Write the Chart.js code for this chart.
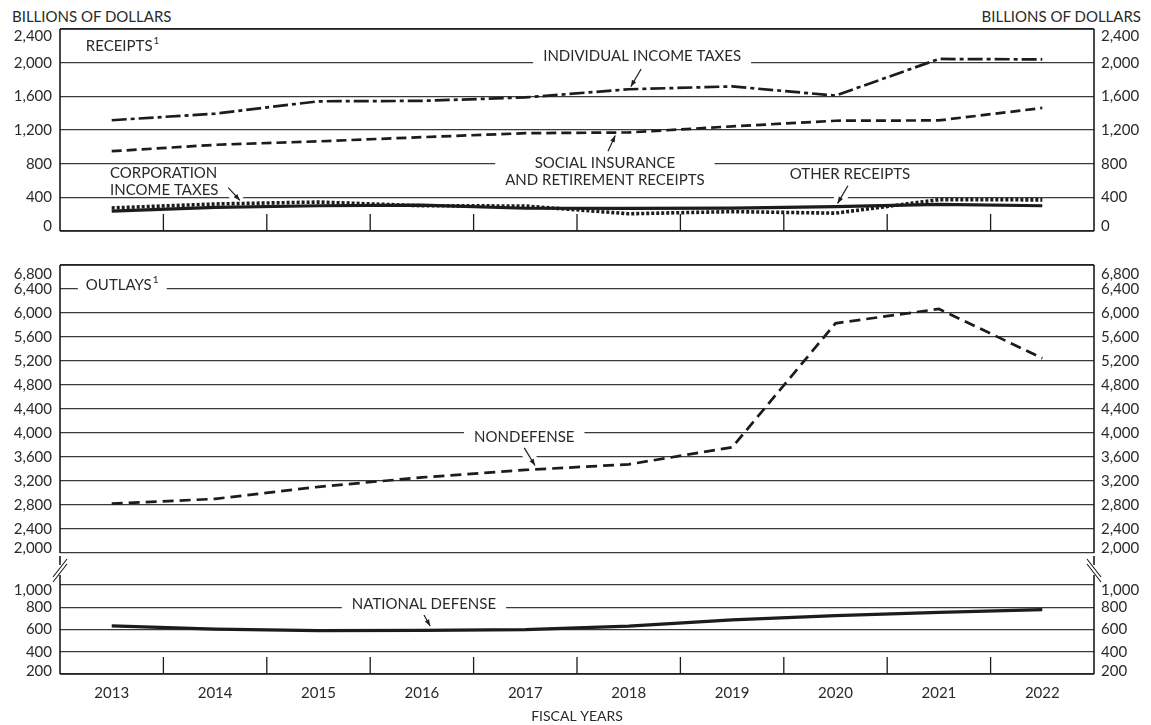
<!DOCTYPE html>
<html>
<head>
<meta charset="utf-8">
<script src="https://cdn.jsdelivr.net/npm/chart.js@4.4.1/dist/chart.umd.min.js"></script>
<style>
  body { margin: 0; background: #fff; }
  #wrap { position: relative; width: 1151px; height: 725px; font-family: Lato, sans-serif; color: #2a2a2a; }
  #wrap canvas { position: absolute; left: 0; }
  .cap { position: absolute; top: 7px; font-size: 15px; white-space: nowrap; }
</style>
</head>
<body>
<div id="wrap">
  <div class="cap" style="left:12px">BILLIONS OF DOLLARS</div>
  <div class="cap" style="right:10px">BILLIONS OF DOLLARS</div>
  <canvas id="receipts" width="1151" height="248" style="top:0"></canvas>
  <canvas id="outlaysHigh" width="1151" height="322" style="top:248px"></canvas>
  <canvas id="outlaysLow" width="1151" height="175" style="top:550px"></canvas>
</div>
<script>
// fiscal years
const years = ['2013', '2014', '2015', '2016', '2017', '2018', '2019', '2020', '2021', '2022'];

// receipts, billions of dollars
const individualIncomeTaxes = [1316, 1395, 1541, 1546, 1587, 1684, 1718, 1609, 2044, 2039];
const socialInsurance = [948, 1024, 1065, 1115, 1162, 1171, 1243, 1310, 1314, 1462];
const corporationIncomeTaxes = [274, 321, 344, 300, 297, 205, 230, 212, 372, 370];
const otherReceipts = [237, 281, 300, 307, 270, 269, 272, 289, 317, 300];

// outlays, billions of dollars
const nondefense = [2822, 2902, 3103, 3260, 3384, 3478, 3761, 5828, 6068, 5247];
const nationalDefense = [633, 604, 589, 593, 598, 631, 686, 724, 754, 778];

// tick labels
const receiptTicks = [0, 400, 800, 1200, 1600, 2000, 2400];
const outlayHighTicks = [2000, 2400, 2800, 3200, 3600, 4000, 4400, 4800, 5200, 5600, 6000, 6400, 6800];
const outlayLowTicks = [200, 400, 600, 800, 1000];

const FONT = 'Lato, sans-serif';
const INK = '#1c1c1c';
const GRID = '#3a3a3a';

Chart.defaults.font.family = FONT;
Chart.defaults.font.size = 15;
Chart.defaults.color = '#2a2a2a';
Chart.defaults.animation = false;

function fmt(v) { return Number(v).toLocaleString('en-US'); }

// y axis pair (left + right) with fixed widths so the plot area is 60..1094
// nudge = [shift of lowest label, shift of highest label] to keep them inside the panel
function yAxes(min, max, list, nudge) {
  const common = {
    type: 'linear', min: min, max: max,
    afterBuildTicks: s => { s.ticks = list.map(v => ({ value: v })); },
    border: { display: false },
    nudge: nudge
  };
  return {
    y: Object.assign({}, common, {
      position: 'left',
      grid: { color: GRID, lineWidth: 1.3, drawTicks: false },
      ticks: { padding: 8, callback: v => fmt(v), autoSkip: false },
      afterFit: s => { s.width = 60; }
    }),
    y2: Object.assign({}, common, {
      position: 'right',
      grid: { display: false, drawTicks: false },
      ticks: { padding: 7, callback: v => fmt(v), autoSkip: false },
      afterFit: s => { s.width = 57; }
    })
  };
}

function line(label, data, dash, width) {
  return {
    label: label, data: data, borderColor: INK, borderWidth: width || 2.7,
    borderDash: dash || [], pointRadius: 0, tension: 0, fill: false,
    borderCapStyle: 'butt'
  };
}

// labels with white knock-outs over the grid, plus little arrows
const notesPlugin = {
  id: 'notes',
  beforeDraw(chart) {
    // move the end labels of each value axis inwards, as in the printed chart
    ['y', 'y2'].forEach(id => {
      const s = chart.scales[id];
      const nudge = s.options.nudge;
      if (!nudge) return;
      const items = s.getLabelItems();
      if (!items.length || items._nudged) return;
      items[0].options.translation[1] += nudge[0];
      items[items.length - 1].options.translation[1] += nudge[1];
      items._nudged = true;
    });
  },
  beforeDatasetsDraw(chart, args, opts) {
    const ctx = chart.ctx, xs = chart.scales.x, ys = chart.scales.y;
    ctx.save();
    (opts.arrows || []).forEach(a => {
      const x0 = xs.getPixelForValue(a.from[0]), y0 = ys.getPixelForValue(a.from[1]);
      const x1 = xs.getPixelForValue(a.to[0]), y1 = ys.getPixelForValue(a.to[1]);
      ctx.strokeStyle = '#fff'; ctx.lineWidth = 12;
      ctx.beginPath(); ctx.moveTo(x0, y0); ctx.lineTo(x1, y1); ctx.stroke();
    });
    ctx.font = '15px ' + FONT;
    ctx.textBaseline = 'middle';
    (opts.items || []).forEach(n => {
      const px = xs.getPixelForValue(n.at[0]);
      const py = ys.getPixelForValue(n.at[1]);
      const lh = 17;
      const widths = n.lines.map(t => ctx.measureText(t).width);
      let w = Math.max.apply(null, widths);
      if (n.sup) w += 7;
      const left = n.align === 'left' ? px : px - w / 2;
      const pad = n.pad == null ? 10 : n.pad;
      const vpad = n.vpad == null ? 8 : n.vpad;
      ctx.fillStyle = '#fff';
      ctx.fillRect(left - pad, py - vpad, w + pad * 2, lh * (n.lines.length - 1) + vpad * 2);
      ctx.fillStyle = '#2a2a2a';
      n.lines.forEach((t, i) => {
        const tx = n.align === 'left' ? px : px - widths[i] / 2;
        ctx.textAlign = 'left';
        ctx.fillText(t, tx, py + i * lh);
        if (n.sup && i === 0) {
          ctx.font = '10px ' + FONT;
          ctx.fillText(n.sup, tx + widths[i] + 1, py - 5);
          ctx.font = '15px ' + FONT;
        }
      });
    });
    (opts.arrows || []).forEach(a => {
      const x0 = xs.getPixelForValue(a.from[0]), y0 = ys.getPixelForValue(a.from[1]);
      const x1 = xs.getPixelForValue(a.to[0]), y1 = ys.getPixelForValue(a.to[1]);
      const ang = Math.atan2(y1 - y0, x1 - x0);
      ctx.strokeStyle = INK; ctx.fillStyle = INK; ctx.lineWidth = 1.2;
      ctx.beginPath(); ctx.moveTo(x0, y0); ctx.lineTo(x1, y1); ctx.stroke();
      ctx.beginPath();
      ctx.moveTo(x1, y1);
      ctx.lineTo(x1 - 7 * Math.cos(ang - 0.35), y1 - 7 * Math.sin(ang - 0.35));
      ctx.lineTo(x1 - 7 * Math.cos(ang + 0.35), y1 - 7 * Math.sin(ang + 0.35));
      ctx.closePath(); ctx.fill();
    });
    ctx.restore();
  },
  afterDraw(chart, args, opts) {
    const ctx = chart.ctx, a = chart.chartArea, xs = chart.scales.x;
    ctx.save();
    ctx.strokeStyle = INK; ctx.lineWidth = 1.6;
    const sides = opts.frame || [];
    ctx.beginPath();
    if (sides.includes('top')) { ctx.moveTo(a.left, a.top); ctx.lineTo(a.right, a.top); }
    if (sides.includes('bottom')) { ctx.moveTo(a.left, a.bottom); ctx.lineTo(a.right, a.bottom); }
    if (sides.includes('left')) { ctx.moveTo(a.left, a.top); ctx.lineTo(a.left, a.bottom); }
    if (sides.includes('right')) { ctx.moveTo(a.right, a.top); ctx.lineTo(a.right, a.bottom); }
    ctx.stroke();
    // short tick marks between fiscal years
    if (opts.yearTicks) {
      ctx.lineWidth = 1.3;
      ctx.beginPath();
      for (let i = 0; i < years.length - 1; i++) {
        const x = (xs.getPixelForValue(i) + xs.getPixelForValue(i + 1)) / 2;
        ctx.moveTo(x, a.bottom); ctx.lineTo(x, a.bottom - 17);
      }
      ctx.stroke();
    }
    // axis break between the two outlay panels
    if (opts.axisBreak) {
      const top = a.top - 29;
      [a.left, a.right].forEach((x, k) => {
        ctx.lineWidth = 1.6;
        ctx.beginPath();
        ctx.moveTo(x, top); ctx.lineTo(x, top + 9);
        ctx.moveTo(x, top + 19); ctx.lineTo(x, a.top);
        ctx.stroke();
        ctx.lineWidth = 1.1;
        const d = k === 0 ? -1 : 1;
        ctx.beginPath();
        ctx.moveTo(x - 7, top + 14 - 9 * d - 2); ctx.lineTo(x + 7, top + 14 + 9 * d - 2);
        ctx.moveTo(x - 7, top + 14 - 9 * d + 3); ctx.lineTo(x + 7, top + 14 + 9 * d + 3);
        ctx.stroke();
      });
    }
    ctx.restore();
  }
};

const hiddenX = { type: 'category', display: false, offset: true };

// receipts panel
new Chart(document.getElementById('receipts'), {
  type: 'line',
  data: {
    labels: years,
    datasets: [
      line('Individual income taxes', individualIncomeTaxes, [15, 4, 4, 4]),
      line('Social insurance and retirement receipts', socialInsurance, [10, 5]),
      line('Corporation income taxes', corporationIncomeTaxes, [3, 2], 3.6),
      line('Other receipts', otherReceipts, [], 3.2)
    ]
  },
  options: {
    responsive: false,
    layout: { padding: { top: 29, bottom: 14 } },
    scales: Object.assign({ x: hiddenX }, yAxes(0, 2400, receiptTicks, [-5, 7])),
    plugins: {
      legend: { display: false }, tooltip: { enabled: false },
      notes: {
        frame: ['top', 'bottom', 'left', 'right'],
        yearTicks: true,
        items: [
          { lines: ['RECEIPTS'], sup: '1', at: [-0.25, 2200], align: 'left', pad: 0 },
          { lines: ['INDIVIDUAL INCOME TAXES'], at: [5.13, 2072] },
          { lines: ['SOCIAL INSURANCE', 'AND RETIREMENT RECEIPTS'], at: [4.77, 808] },
          { lines: ['CORPORATION', 'INCOME TAXES'], at: [-0.016, 690], align: 'left', pad: 2, vpad: 3 },
          { lines: ['OTHER RECEIPTS'], at: [7.14, 679], pad: 2, vpad: 3 }
        ],
        arrows: [
          { from: [5.12, 1925], to: [5.02, 1714] },
          { from: [4.80, 948], to: [4.87, 1135] },
          { from: [1.127, 515], to: [1.24, 363] },
          { from: [7.12, 538], to: [7.02, 328] }
        ]
      }
    }
  },
  plugins: [notesPlugin]
});

// outlays, upper part of the broken axis
new Chart(document.getElementById('outlaysHigh'), {
  type: 'line',
  data: {
    labels: years,
    datasets: [line('Nondefense', nondefense, [11, 6])]
  },
  options: {
    responsive: false,
    layout: { padding: { top: 15, bottom: 14 } },
    scales: Object.assign({ x: hiddenX }, yAxes(2000, 6800, outlayHighTicks, [-5, 9])),
    plugins: {
      legend: { display: false }, tooltip: { enabled: false },
      notes: {
        frame: ['top', 'left', 'right'],
        items: [
          { lines: ['OUTLAYS'], sup: '1', at: [-0.25, 6472], align: 'left', pad: 8 },
          { lines: ['NONDEFENSE'], at: [3.99, 3933] }
        ],
        arrows: [
          { from: [3.99, 3753], to: [4.094, 3458] }
        ]
      }
    }
  },
  plugins: [notesPlugin]
});

// outlays, lower part of the broken axis, carries the year labels
new Chart(document.getElementById('outlaysLow'), {
  type: 'line',
  data: {
    labels: years,
    datasets: [line('National defense', nationalDefense, [], 3.2)]
  },
  options: {
    responsive: false,
    layout: { padding: { top: 35 } },
    scales: Object.assign({
      x: {
        type: 'category', offset: true,
        grid: { display: false, drawTicks: false },
        border: { display: false },
        ticks: { padding: 10, font: { size: 15 } },
        title: { display: true, text: 'FISCAL YEARS', font: { size: 14 }, padding: 0 },
        afterFit: s => { s.height = 51; }
      }
    }, yAxes(200, 1000, outlayLowTicks, [-3, 5])),
    plugins: {
      legend: { display: false }, tooltip: { enabled: false },
      notes: {
        frame: ['bottom', 'left', 'right'],
        yearTicks: true,
        axisBreak: true,
        items: [
          { lines: ['NATIONAL DEFENSE'], at: [3.02, 829] }
        ],
        arrows: [
          { from: [3.02, 730], to: [3.08, 631] }
        ]
      }
    }
  },
  plugins: [notesPlugin]
});
</script>
</body>
</html>
